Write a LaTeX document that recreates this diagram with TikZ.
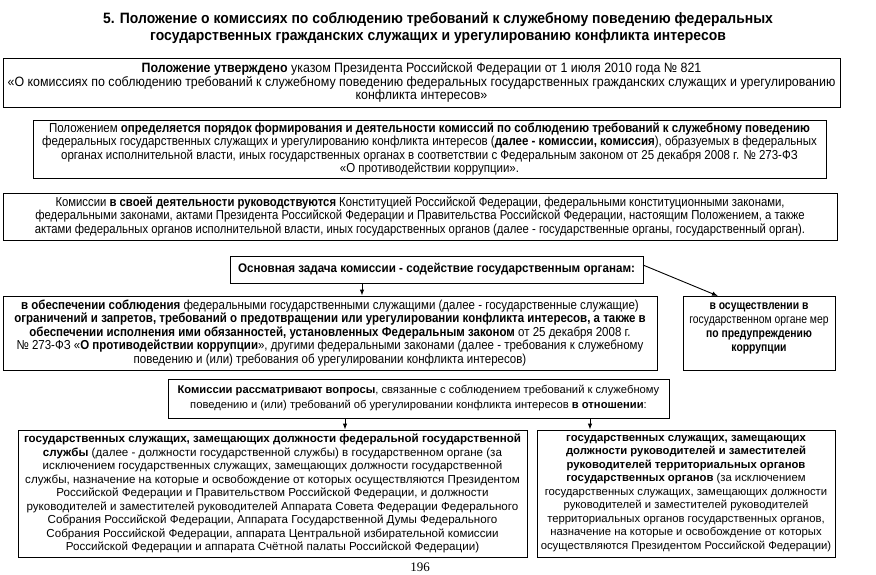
\documentclass[tikz,border=0pt]{standalone}
\usepackage{fontspec}
\setmainfont{Liberation Sans}
\newfontfamily\titlefont[FakeStretch=0.93]{Liberation Sans}
\newfontfamily\widefont[FakeStretch=0.92]{Liberation Sans}
\newfontfamily\midfont[FakeStretch=0.885]{Liberation Sans}
\newfontfamily\narrowfont[FakeStretch=0.87]{Liberation Sans}
\newfontfamily\thinfont[FakeStretch=0.83]{Liberation Sans}
\newfontfamily\taskfont[FakeStretch=0.93]{Liberation Sans}
\newfontfamily\pagefont{Liberation Serif}
\usetikzlibrary{arrows.meta}

\newcommand*{\pw}{876}
\newcommand*{\ph}{575}

\begin{document}
\begin{tikzpicture}
[
	x=1pt,y=-1pt,
	box/.style={draw,line width=0.9pt,align=center,inner sep=1pt},
	arr/.style={-{Latex[length=6pt,width=4.5pt]},line width=0.9pt}
]

	\useasboundingbox (0,0) rectangle (\pw,\ph);

	% title
	\node[font=\titlefont\bfseries\fontsize{15}{17.5}\selectfont,align=center] (title) at (438,28)
		{5. Положение о комиссиях по соблюдению требований к служебному поведению федеральных\\
		государственных гражданских служащих и урегулированию конфликта интересов};

	% regulation boxes
	\node[box,font=\widefont\fontsize{13.5}{13.6}\selectfont,minimum width=837,minimum height=49] (approved) at (421.5,82.5)
		{\textbf{Положение утверждено} указом Президента Российской Федерации от 1 июля 2010 года № 821\\
		«О комиссиях по соблюдению требований к служебному поведению федеральных государственных гражданских служащих и урегулированию\\
		конфликта интересов»};

	\node[box,font=\midfont\fontsize{13}{13.2}\selectfont,minimum width=793,minimum height=58] (order) at (429.5,149)
		{Положением \textbf{определяется порядок формирования и деятельности комиссий по соблюдению требований к служебному поведению}\\
		федеральных государственных служащих и урегулированию конфликта интересов (\textbf{далее - комиссии, комиссия}), образуемых в федеральных\\
		органах исполнительной власти, иных государственных органах в соответствии с Федеральным законом от 25 декабря 2008 г. № 273-ФЗ\\
		«О противодействии коррупции».};

	\node[box,font=\narrowfont\fontsize{13}{13.4}\selectfont,minimum width=834,minimum height=47] (guide) at (420,216.5)
		{Комиссии \textbf{в своей деятельности руководствуются} Конституцией Российской Федерации, федеральными конституционными законами,\\
		федеральными законами, актами Президента Российской Федерации и Правительства Российской Федерации, настоящим Положением, а также\\
		актами федеральных органов исполнительной власти, иных государственных органов (далее - государственные органы, государственный орган).};

	% main task
	\node[box,font=\taskfont\bfseries\fontsize{12.5}{13.5}\selectfont,minimum width=413,minimum height=27] (task) at (436.5,269.5)
		{Основная задача комиссии - содействие государственным органам:};

	\node[box,font=\midfont\fontsize{13}{13.5}\selectfont,minimum width=654,minimum height=74] (ensure) at (330,333)
		{\textbf{в обеспечении соблюдения} федеральными государственными служащими (далее - государственные служащие)\\
		\textbf{ограничений и запретов, требований о предотвращении или урегулировании конфликта интересов, а также в}\\
		\textbf{обеспечении исполнения ими обязанностей, установленных Федеральным законом} от 25 декабря 2008 г.\\
		№ 273-ФЗ «\textbf{О противодействии коррупции}», другими федеральными законами (далее - требования к служебному\\
		поведению и (или) требования об урегулировании конфликта интересов)};

	\node[box,font=\thinfont\fontsize{12.5}{13.7}\selectfont,minimum width=152,minimum height=74] (prevent) at (759,333)
		{\textbf{в осуществлении в}\\
		государственном органе мер\\
		\textbf{по предупреждению}\\
		\textbf{коррупции}\\[-6pt]
		\strut};

	\coordinate (taskout) at (643,265);
	\draw[arr] (task.south -| 362,0) -- (ensure.north -| 362,0);
	\draw[arr] (taskout) -- (718,296);

	% questions
	\node[box,font=\fontsize{11.2}{15}\selectfont,minimum width=501,minimum height=39] (consider) at (418.5,398.5)
		{\textbf{Комиссии рассматривают вопросы}, связанные с соблюдением требований к служебному\\
		поведению и (или) требований об урегулировании конфликта интересов \textbf{в отношении}:};

	\node[box,font=\fontsize{11.6}{13.5}\selectfont,minimum width=509,minimum height=127] (staff) at (272.5,493.5)
		{\textbf{государственных служащих, замещающих должности федеральной государственной}\\
		\textbf{службы} (далее - должности государственной службы) в государственном органе (за\\
		исключением государственных служащих, замещающих должности государственной\\
		службы, назначение на которые и освобождение от которых осуществляются Президентом\\
		Российской Федерации и Правительством Российской Федерации, и должности\\
		руководителей и заместителей руководителей Аппарата Совета Федерации Федерального\\
		Собрания Российской Федерации, Аппарата Государственной Думы Федерального\\
		Собрания Российской Федерации, аппарата Центральной избирательной комиссии\\
		Российской Федерации и аппарата Счётной палаты Российской Федерации)};

	\node[box,font=\fontsize{11.3}{13.5}\selectfont,minimum width=298,minimum height=127] (heads) at (686,493.5)
		{\textbf{государственных служащих, замещающих}\\
		\textbf{должности руководителей и заместителей}\\
		\textbf{руководителей территориальных органов}\\
		\textbf{государственных органов} (за исключением\\
		государственных служащих, замещающих должности\\
		руководителей и заместителей руководителей\\
		территориальных органов государственных органов,\\
		назначение на которые и освобождение от которых\\
		осуществляются Президентом Российской Федерации)};

	\draw[arr] (consider.south -| 345,0) -- (staff.north -| 345,0);
	\draw[arr] (consider.south -| 590,0) -- (heads.north -| 590,0);

	% page
	\node[font=\pagefont\fontsize{13}{15}\selectfont] (page) at (420,567) {196};

\end{tikzpicture}
\end{document}
